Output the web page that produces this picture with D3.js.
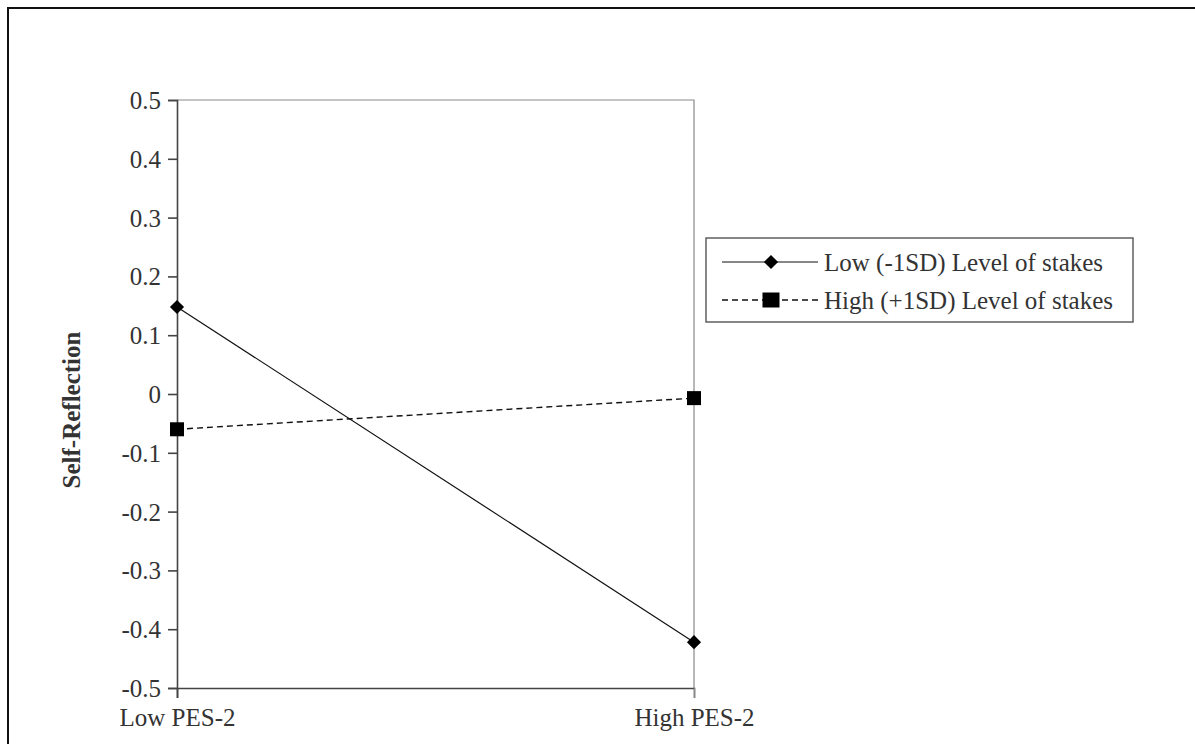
<!DOCTYPE html>
<html>
<head>
<meta charset="utf-8">
<script src="https://cdn.jsdelivr.net/npm/d3@7"></script>
<style>
  body { margin: 0; background: #fff; }
  text { font-family: "Liberation Serif", "Times New Roman", serif; fill: #333; }
</style>
</head>
<body>
<div id="chart"></div>
<script>
// data
var categories = ['Low PES-2', 'High PES-2'];
var yTicks = [-0.5, -0.4, -0.3, -0.2, -0.1, 0, 0.1, 0.2, 0.3, 0.4, 0.5];
var seriesNames = ['Low (-1SD) Level of stakes', 'High (+1SD) Level of stakes'];
var lowStakes = [0.148, -0.422];
var highStakes = [-0.060, -0.007];

var width = 1195,
	height = 744,
	margin = { top: 100, left: 177, right: 501, bottom: 56 };

var svg = d3.select('#chart')
	.append('svg')
		.attr('width', width)
		.attr('height', height);

// outer frame (cut off at right and bottom)
svg.append('rect')
	.attr('x', 8).attr('y', 8)
	.attr('width', width + 20).attr('height', height + 20)
	.attr('fill', 'none')
	.attr('stroke', '#111')
	.attr('stroke-width', 2);

var x = d3.scalePoint()
	.domain(categories)
	.range([margin.left, width - margin.right])
	.padding(0);

var y = d3.scaleLinear()
	.domain([-0.5, 0.5])
	.range([height - margin.bottom, margin.top]);

// plot border (top and right)
svg.append('path')
	.attr('d', 'M' + x.range()[0] + ',' + y(0.5) + 'H' + x.range()[1] + 'V' + y(-0.5))
	.attr('fill', 'none')
	.attr('stroke', '#8a8a8a')
	.attr('stroke-width', 1.2);

var yAxis = d3.axisLeft(y)
	.tickValues(yTicks)
	.tickSize(9)
	.tickPadding(7)
	.tickFormat(function(d){ return Math.abs(d) < 1e-9 ? '0' : d.toFixed(1); });

var gy = svg.append('g')
	.attr('transform', 'translate(' + margin.left + ',0)')
	.call(yAxis);

var xAxis = d3.axisBottom(x)
	.tickSize(10)
	.tickPadding(6);

var gx = svg.append('g')
	.attr('transform', 'translate(0,' + y(-0.5) + ')')
	.call(xAxis);

[gy, gx].forEach(function(g){
	g.attr('font-family', null).attr('font-size', null);
	g.select('.domain').attr('stroke', '#444').attr('stroke-width', 1.6);
	g.selectAll('.tick line').attr('stroke', '#444').attr('stroke-width', 1.6);
	g.selectAll('.tick text')
		.style('font-size', '25px')
		.attr('fill', '#333');
});
gy.selectAll('.tick text').attr('dy', '0.34em');
gx.selectAll('.tick text').attr('dy', '0.88em');
gx.selectAll('.tick').filter(function(d){ return d === 'High PES-2'; })
	.select('line').attr('stroke', '#8a8a8a').attr('stroke-width', 1.2);

// y label
svg.append('text')
	.attr('transform', 'translate(80,410) rotate(-90)')
	.attr('text-anchor', 'middle')
	.style('font-size', '25px')
	.style('font-weight', 'bold')
	.text('Self-Reflection');

var line = d3.line()
	.x(function(d, i){ return x(categories[i]); })
	.y(function(d){ return y(d); });

// diamond = square turned 45 degrees
var diamond = d3.symbol().type(d3.symbolSquare).size(100);

// low stakes series
svg.append('path')
	.datum(lowStakes)
	.attr('d', line)
	.attr('fill', 'none')
	.attr('stroke', '#111')
	.attr('stroke-width', 1.2);

svg.selectAll('.low-mark')
	.data(lowStakes)
	.enter()
	.append('path')
		.attr('class', 'low-mark')
		.attr('transform', function(d, i){ return 'translate(' + x(categories[i]) + ',' + y(d) + ') rotate(45)'; })
		.attr('d', diamond)
		.attr('fill', '#000');

// high stakes series
svg.append('path')
	.datum(highStakes)
	.attr('d', line)
	.attr('fill', 'none')
	.attr('stroke', '#111')
	.attr('stroke-width', 1.4)
	.attr('stroke-dasharray', '6,4');

svg.selectAll('.high-mark')
	.data(highStakes)
	.enter()
	.append('rect')
		.attr('class', 'high-mark')
		.attr('x', function(d, i){ return x(categories[i]) - 7; })
		.attr('y', function(d){ return y(d) - 7; })
		.attr('width', 14)
		.attr('height', 14)
		.attr('fill', '#000');

// legend
var legend = svg.append('g').attr('transform', 'translate(706,238)');

legend.append('rect')
	.attr('width', 427)
	.attr('height', 84)
	.attr('fill', '#fff')
	.attr('stroke', '#555')
	.attr('stroke-width', 1.4);

var rows = legend.selectAll('.row')
	.data(seriesNames)
	.enter()
	.append('g')
		.attr('class', 'row')
		.attr('transform', function(d, i){ return 'translate(0,' + (24 + i * 38) + ')'; });

rows.append('line')
	.attr('x1', 16).attr('x2', 112)
	.attr('stroke', '#111')
	.attr('stroke-width', function(d, i){ return i ? 1.4 : 1.2; })
	.attr('stroke-dasharray', function(d, i){ return i ? '6,4' : null; });

rows.filter(function(d, i){ return i === 0; })
	.append('path')
		.attr('transform', 'translate(65,0) rotate(45)')
		.attr('d', diamond)
		.attr('fill', '#000');

rows.filter(function(d, i){ return i === 1; })
	.append('rect')
		.attr('x', 56.5).attr('y', -7.5)
		.attr('width', 17).attr('height', 15)
		.attr('fill', '#000');

rows.append('text')
	.attr('x', 118)
	.attr('dy', '0.34em')
	.style('font-size', '25px')
	.text(function(d){ return d; });
</script>
</body>
</html>
